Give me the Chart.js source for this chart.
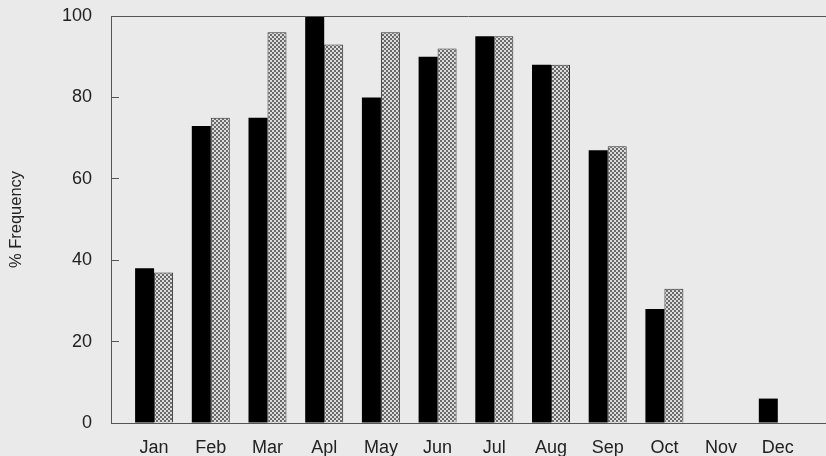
<!DOCTYPE html>
<html>
<head>
<meta charset="utf-8">
<script src="https://cdn.jsdelivr.net/npm/chart.js@4/dist/chart.umd.min.js"></script>
<style>
  html, body { margin: 0; padding: 0; background: #eaeaea; }
  #wrap { width: 826px; height: 456px; position: relative; }
</style>
</head>
<body>
<div id="wrap"><canvas id="myChart"></canvas></div>
<script>
const months = ['Jan', 'Feb', 'Mar', 'Apl', 'May', 'Jun', 'Jul', 'Aug', 'Sep', 'Oct', 'Nov', 'Dec'];
const seriesBlack = [38, 73, 75, 100, 80, 90, 95, 88, 67, 28, 0, 6];
const seriesGray  = [37, 75, 96, 93, 96, 92, 95, 88, 68, 33, 0, 0];
const yTicks = [0, 20, 40, 60, 80, 100];

const FONT = '"Liberation Sans", Arial, sans-serif';
const LINE = '#555';

// dotted fill for the second series
function dotPattern() {
    const c = document.createElement('canvas');
    c.width = 4; c.height = 4;
    const g = c.getContext('2d');
    g.fillStyle = '#dcdcdc';
    g.fillRect(0, 0, 4, 4);
    g.fillStyle = '#6a6a6a';
    g.fillRect(0, 0, 2, 2);
    g.fillRect(2, 2, 2, 2);
    return g.createPattern(c, 'repeat');
}

// top edge of the frame
const topLine = {
    id: 'topLine',
    afterDraw(chart) {
        const a = chart.chartArea;
        const c = chart.ctx;
        c.save();
        c.strokeStyle = LINE;
        c.lineWidth = 1;
        c.beginPath();
        c.moveTo(a.left, Math.round(a.top) + 0.5);
        c.lineTo(a.right, Math.round(a.top) + 0.5);
        c.stroke();
        c.restore();
    }
};

const ctx = document.getElementById('myChart').getContext('2d');
const toPoints = arr => arr.map((v, i) => ({ x: i, y: v }));

new Chart(ctx, {
    type: 'bar',
    data: {
        datasets: [
            { label: 'A', data: toPoints(seriesBlack), backgroundColor: '#000', borderWidth: 0 },
            { label: 'B', data: toPoints(seriesGray), backgroundColor: dotPattern(), borderColor: '#333', borderWidth: 1 }
        ]
    },
    plugins: [topLine],
    options: {
        responsive: true,
        maintainAspectRatio: false,
        animation: false,
        layout: { padding: { top: 16, right: 0, left: 0, bottom: 0 } },
        datasets: { bar: { categoryPercentage: 0.67, barPercentage: 1.0 } },
        plugins: { legend: { display: false }, tooltip: { enabled: false } },
        scales: {
            x: {
                type: 'linear',
                position: 'bottom',
                offset: false,
                min: -0.76,
                max: 11.85,
                grid: { display: false, drawTicks: false },
                border: { display: true, color: LINE, width: 1 },
                ticks: {
                    stepSize: 1,
                    includeBounds: false,
                    autoSkip: false,
                    maxRotation: 0,
                    padding: 14,
                    color: '#222',
                    font: { family: FONT, size: 18 },
                    callback: v => months[v]
                },
                afterFit: s => { s.height = 33; }
            },
            y: {
                min: 0,
                max: 100,
                grid: { drawOnChartArea: false, drawTicks: true, tickLength: -8, color: LINE },
                border: { display: true, color: LINE, width: 1 },
                afterBuildTicks: s => { s.ticks = yTicks.map(v => ({ value: v })); },
                ticks: {
                    padding: 27,
                    color: '#222',
                    font: { family: FONT, size: 18 }
                },
                title: {
                    display: true,
                    text: '% Frequency',
                    color: '#222',
                    font: { family: FONT, size: 16.5 },
                    padding: { top: 7, bottom: 0 }
                },
                afterFit: s => { s.width = 111; s.paddingTop = 0; s.paddingBottom = 0; }
            }
        }
    }
});
</script>
</body>
</html>
